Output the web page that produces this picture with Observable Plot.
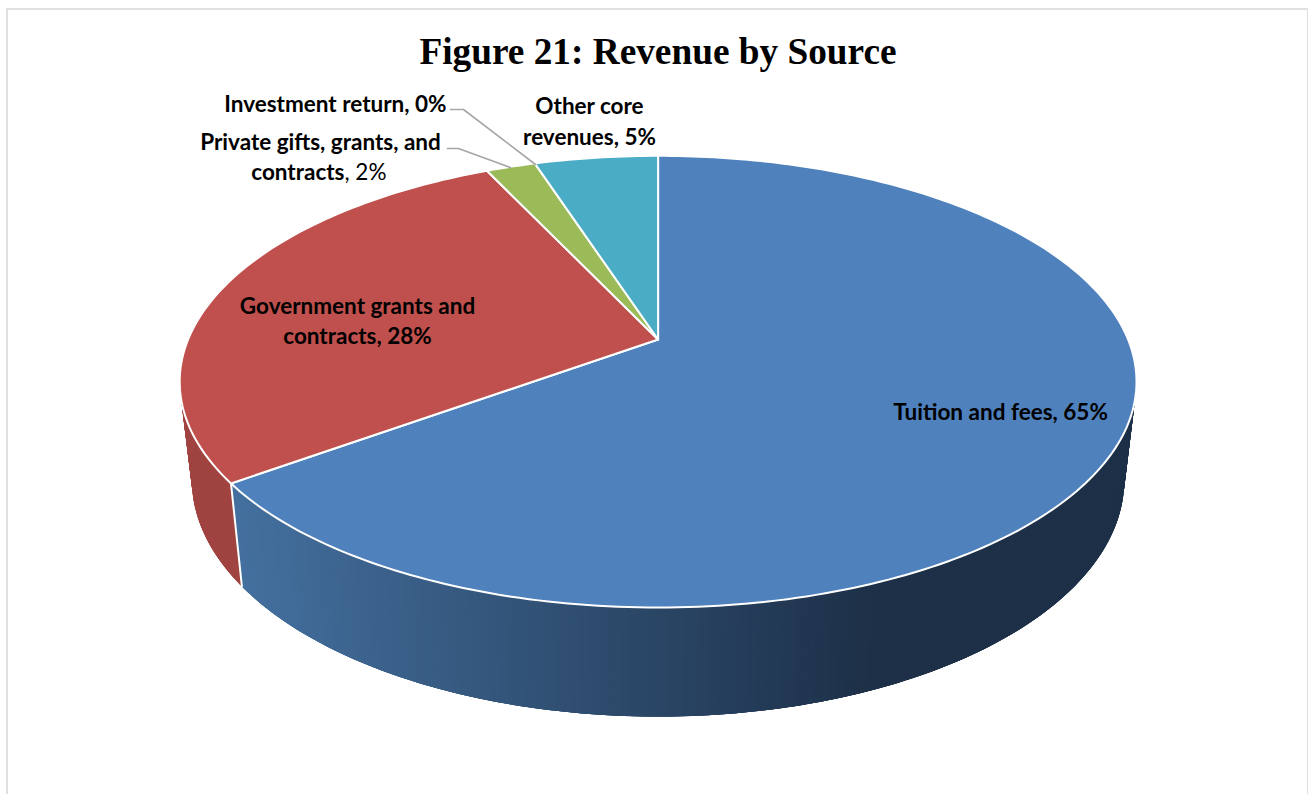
<!DOCTYPE html>
<html>
<head>
<meta charset="utf-8">
<script src="https://cdn.jsdelivr.net/npm/d3@7"></script>
<script src="https://cdn.jsdelivr.net/npm/@observablehq/plot@0.6"></script>
<style>
html,body{margin:0;padding:0;background:#fff;overflow:hidden}
#frame{position:absolute;left:6px;top:8px;width:1299px;height:800px;border:2px solid #e0e0e0;border-bottom:none;pointer-events:none}
h1{margin:0;height:90px;box-sizing:border-box;padding-top:27px;text-align:center;font:bold 37.3px/50px "Liberation Serif",serif;color:#000;position:relative;left:4px}
#chart svg{display:block}
</style>
</head>
<body>
<div id="frame"></div>
<h1>Figure 21: Revenue by Source</h1>
<div id="chart"></div>
<script>
// ---- data ----
const categories = ["Tuition and fees", "Government grants and contracts", "Private gifts, grants, and contracts", "Investment return", "Other core revenues"];
const shares = [65, 28, 2, 0, 5];
const palette = ["#4f81bd", "#c0504d", "#9bbb59", "#8064a2", "#4bacc6"];
const redSide = "#a04441";
const blueSideRamp = ["#44709f", "#1d3048"];

// ---- 3-D pie projection (perspective disc) ----
const cx = 657.6;
const topDisc = {y0: 339, a: 470, b: 218, k: 0.1867};
const lowDisc = {y0: 435, a: 458, b: 228.6, k: 0.1867};
const project = (disc, deg) => {
  const r = deg * Math.PI / 180, s = Math.sin(r), c = Math.cos(r), d = 1 + disc.k * c;
  return {x: cx + disc.a * s / d, y: disc.y0 - disc.b * c / d};
};
const total = d3.sum(shares);
const ends = Array.from(d3.cumsum(shares), v => v / total * 360);
const starts = ends.map((_, i) => (i ? ends[i - 1] : 0));
const arc = (from, to) => d3.range(from, to, 1).concat(to);

// top faces
const topFaces = categories.flatMap((name, i) => {
  if (!shares[i]) return [];
  const apex = {x: cx, y: topDisc.y0};
  const rim = arc(starts[i], ends[i]).map(a => project(topDisc, a));
  return [apex, ...rim, apex].map(p => ({...p, name}));
});

// side wall: overlapping strips so that the shading runs around the wall without seams
const ramp = d3.interpolateRgb(...blueSideRamp);
const stripFrom = 60, stripTo = 300, stripStep = 0.5;
const wallColor = a => {
  if (a >= starts[1]) return redSide;
  const t = (project(lowDisc, a).x - 242) / (870 - 242);
  return ramp(Math.max(0, Math.min(1, t)));
};
// the blue wall is painted from its far (dark) end towards the boundary, the red wall first
const wallStart = starts[1];
const wallAngles = [
  ...d3.range(stripTo, wallStart - stripStep, -stripStep),
  ...d3.range(stripFrom, wallStart, stripStep)
];
const sideStrips = wallAngles.flatMap((a, id) => {
  const red = a >= wallStart;
  const lo = red ? Math.max(a - 2, wallStart) : a;
  const hi = red ? a : Math.min(a + 2, wallStart);
  const arcA = arc(lo, hi);
  const pts = [...arcA.map(v => project(topDisc, v)), ...arcA.reverse().map(v => project(lowDisc, v))];
  const color = wallColor(a);
  return pts.map(p => ({...p, id, color}));
});
const sideEdge = [project(topDisc, ends[0]), project(lowDisc, ends[0])];

// ---- leader lines and label lines ----
const leaders = [
  {id: "inv", x: 450, y: 109}, {id: "inv", x: 463, y: 109}, {id: "inv", x: 535, y: 164},
  {id: "pri", x: 447, y: 148}, {id: "pri", x: 458, y: 148}, {id: "pri", x: 510, y: 167}
];
const boldCentered = [
  {t: "Private gifts, grants, and", x: 320, y: 142},
  {t: "Other core", x: 589, y: 106},
  {t: "revenues, 5%", x: 589, y: 137},
  {t: "Government grants and", x: 357, y: 306},
  {t: "contracts, 28%", x: 357, y: 336},
  {t: "Tuition and fees, 65%", x: 1000, y: 412}
];
const boldEnd = [
  {t: "Investment return, 0%", x: 446, y: 104},
  {t: "contracts", x: 344, y: 172}
];
const regularStart = [{t: ", 2%", x: 344, y: 172}];

const font = {fontFamily: "Lato", fontSize: 22.5, fill: "#000"};

const plot = Plot.plot({
  width: 1308, height: 704,
  margin: 0,
  style: {background: "transparent", overflow: "visible"},
  x: {domain: [0, 1308], range: [0, 1308], axis: null},
  y: {domain: [90, 794], range: [0, 704], axis: null},
  color: {domain: categories, range: palette},
  marks: [
    Plot.line(sideStrips, {x: "x", y: "y", z: "id",
      fill: {value: "color", scale: null}, stroke: null}),
    Plot.line(sideEdge, {x: "x", y: "y", stroke: "#fff", strokeWidth: 2}),
    Plot.line(topFaces, {x: "x", y: "y", z: "name", fill: "name", stroke: "#fff", strokeWidth: 2}),
    Plot.line(leaders, {x: "x", y: "y", z: "id", stroke: "#a6a6a6", strokeWidth: 1.6}),
    Plot.text(boldCentered, {x: "x", y: "y", text: "t", fontWeight: "bold", ...font}),
    Plot.text(boldEnd, {x: "x", y: "y", text: "t", textAnchor: "end", fontWeight: "bold", ...font}),
    Plot.text(regularStart, {x: "x", y: "y", text: "t", textAnchor: "start", ...font})
  ]
});
document.getElementById("chart").append(plot);
</script>
</body>
</html>
